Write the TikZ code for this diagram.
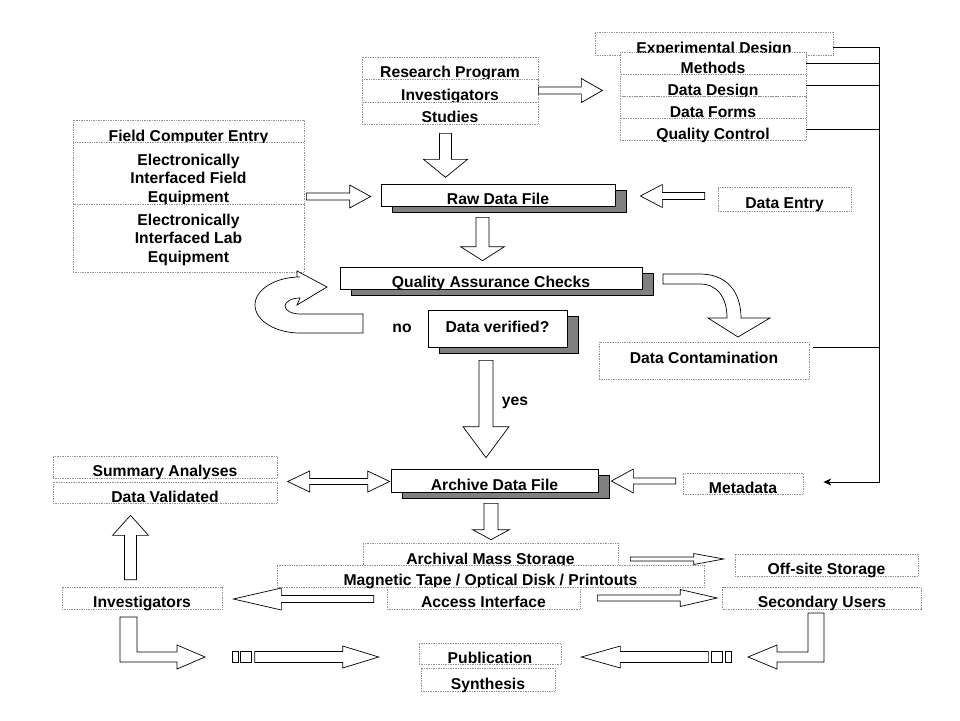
\documentclass[tikz,border=0pt]{standalone}
\usepackage{fontspec}
\setmainfont{Liberation Sans}
\usetikzlibrary{calc,shadows,arrows.meta}

\tikzset{
  txt/.style={font=\fontsize{15.7}{18.5}\selectfont\bfseries, inner sep=0pt},
  fbox/.style={txt, draw=gray!85, densely dotted, line width=0.7pt, fill=white, align=center},
  dbox/.style={fbox, text height=19pt, text depth=0pt},
  sbox/.style={txt, draw, line width=0.7pt, fill=white, text height=19pt, text depth=0pt,
    general shadow={fill=gray, draw=black, line width=0.6pt, shadow xshift=11pt, shadow yshift=-6pt}},
  wire/.style={line width=1pt},
  blk/.style={draw, fill=white, line width=0.7pt},
  fat/.style args={#1/#2/#3}{blk, to path={
    let \p1=(\tikztostart), \p2=(\tikztotarget),
        \n1={round(((\x2)-(\x1))/veclen((\x2)-(\x1),(\y2)-(\y1)))},
        \n2={round(((\y2)-(\y1))/veclen((\x2)-(\x1),(\y2)-(\y1)))} in
    ({(\x1)-(\n2)*#1}, {(\y1)+(\n1)*#1})
    -- ({(\x2)-(\n1)*#3-(\n2)*#1}, {(\y2)-(\n2)*#3+(\n1)*#1})
    -- ({(\x2)-(\n1)*#3-(\n2)*#2}, {(\y2)-(\n2)*#3+(\n1)*#2})
    -- (\p2)
    -- ({(\x2)-(\n1)*#3+(\n2)*#2}, {(\y2)-(\n2)*#3-(\n1)*#2})
    -- ({(\x2)-(\n1)*#3+(\n2)*#1}, {(\y2)-(\n2)*#3-(\n1)*#1})
    -- ({(\x1)+(\n2)*#1}, {(\y1)-(\n1)*#1})
    -- cycle}},
  fatt/.style args={#1/#2/#3}{blk, to path={
    let \p1=(\tikztostart), \p2=(\tikztotarget) in
    (\p1) -- ({(\x1)+#3}, {(\y1)+#2}) -- ({(\x1)+#3}, {(\y1)+#1})
    -- ({(\x2)-#3}, {(\y1)+#1}) -- ({(\x2)-#3}, {(\y1)+#2}) -- (\x2,\y1)
    -- ({(\x2)-#3}, {(\y1)-#2}) -- ({(\x2)-#3}, {(\y1)-#1})
    -- ({(\x1)+#3}, {(\y1)-#1}) -- ({(\x1)+#3}, {(\y1)-#2}) -- cycle}}
}

\begin{document}
\begin{tikzpicture}[x=1pt, y=1pt, >={Stealth[length=8pt,width=7pt]}]
\fill[white, use as bounding box] (0,0) rectangle (960,-720);

% design
\node[dbox, minimum width=238pt, minimum height=23pt] (ExpD) at (714,-43.5) {Experimental Design};
\node[dbox, minimum width=186pt, minimum height=21.6pt] (Meth) at (713,-63.5) {Methods};
\node[dbox, minimum width=186pt, minimum height=22.4pt] (DDes) at (713,-85.5) {Data Design};
\node[dbox, minimum width=186pt, minimum height=21.6pt] (DFrm) at (713,-107.5) {Data Forms};
\node[dbox, minimum width=186pt, minimum height=22.4pt] (QCtl) at (713,-129.5) {Quality Control};

\node[dbox, minimum width=176pt, minimum height=22pt] (RPrg) at (450,-68) {Research Program};
\node[dbox, minimum width=176pt, minimum height=23pt] (Invs) at (450,-90.5) {Investigators};
\node[dbox, minimum width=176pt, minimum height=22pt] (Stud) at (450,-113) {Studies};

\node[dbox, minimum width=231pt, minimum height=24pt] (FCE) at (188.5,-132) {Field Computer Entry};
\node[fbox, minimum width=231pt, minimum height=60pt] (EIF) at (188.5,-174) {\rule{0pt}{22.5pt}Electronically\\Interfaced Field\\Equipment};
\node[fbox, minimum width=231pt, minimum height=68pt] (EIL) at (188.5,-238) {\rule{0pt}{14.5pt}Electronically\\Interfaced Lab\\Equipment};

% checking
\node[sbox, minimum width=234pt, minimum height=22pt] (Raw) at (498,-195) {Raw Data File};
\node[dbox, minimum width=133pt, minimum height=24pt] (DEnt) at (784.5,-199) {Data Entry};
\node[sbox, minimum width=302pt, minimum height=22pt] (QA) at (491,-278) {Quality Assurance Checks};
\node[sbox, minimum width=139pt, minimum height=37pt, text height=11.5pt, text depth=3.3pt] (DVer) at (497.5,-328.5) {Data verified?};
\node[txt] (no) at (402,-328) {no};
\node[dbox, minimum width=210pt, minimum height=37pt, text height=11.5pt, text depth=5.3pt] (DCon) at (704,-360.5) {Data Contamination};
\node[txt] (yes) at (515,-403) {yes};

% archive
\node[sbox, minimum width=207pt, minimum height=23pt] (Arch) at (494.5,-480.5) {Archive Data File};
\node[dbox, minimum width=120pt, minimum height=21pt] (Meta) at (743,-483.5) {Metadata};
\node[dbox, minimum width=224pt, minimum height=22pt] (Summ) at (165,-467) {Summary Analyses};
\node[dbox, minimum width=224pt, minimum height=21pt] (DVal) at (165,-492.5) {Data Validated};
\node[dbox, minimum width=160pt, minimum height=22pt] (InvB) at (142,-598) {Investigators};
\node[dbox, minimum width=255pt, minimum height=23pt] (AMS) at (490.5,-554.5) {Archival Mass Storage};
\node[dbox, minimum width=427pt, minimum height=22pt] (Mag) at (490.5,-576) {Magnetic Tape / Optical Disk / Printouts};
\node[dbox, minimum width=193pt, minimum height=22pt] (Acc) at (483.5,-598) {Access Interface};
\node[dbox, minimum width=183pt, minimum height=22pt] (Off) at (826.5,-565) {Off-site Storage};
\node[dbox, minimum width=199pt, minimum height=22pt] (Sec) at (822,-598) {Secondary Users};
\node[dbox, minimum width=142pt, minimum height=21pt] (Pub) at (490,-653.5) {Publication};
\node[dbox, minimum width=134pt, minimum height=23pt] (Syn) at (488,-679.5) {Synthesis};

% block arrows
\draw[fat=3.5/12/21] (Invs.east) to ($(Invs.east)+(64,0)$);
\draw[fat=6/22/18] ($(Stud.south)+(-4.5,-9)$) to ($(Stud.south)+(-4.5,-53)$);
\draw[fat=3.5/11.5/21] ($(EIF.east)+(2,-22.5)$) to ($(Raw.west)+(-10,-1.5)$);
\draw[fat=3.5/11.5/22] ($(DEnt.west)+(-13,3)$) to ($(Raw.east)+(25,-1)$);
\draw[fat=6.5/22/14] ($(Raw.south)+(-15.5,-11)$) to ($(QA.north)+(-8.5,6)$);
\draw[fat=7/23/31] ($(DVer.south)+(-11.5,-13)$) to ($(Arch.north)+(-8.5,11)$);
\draw[fat=3/12/22] ($(Meta.west)+(-7,2.5)$) to ($(Arch.east)+(13,-0.5)$);
\draw[fatt=3/10.5/22] ($(Arch.west)+(-103,-1)$) to ($(Arch.west)+(-1,-1)$);
\draw[fat=6/18/20] ($(InvB.north)+(-11.5,7)$) to ($(DVal.south)+(-34.5,-12)$);
\draw[fat=7/18.5/10] ($(Arch.south)+(-3.5,-11)$) to ($(AMS.north)+(0.5,3)$);
\draw[fat=2/5.5/30] ($(AMS.east)+(12,-4.5)$) to ($(Off.west)+(-11,6)$);
\draw[fat=3/8.5/37] ($(Acc.east)+(17,0)$) to ($(Sec.west)+(-5,0)$);
\draw[fat=3.5/11/48] ($(Acc.west)+(-13,-1)$) to ($(InvB.east)+(11,-1)$);

% striped arrows to publication
\draw[blk] (232,-651.5) rectangle (238,-662.5);
\draw[blk] (240.5,-651.5) rectangle (251.5,-662.5);
\draw[fat=5.5/11/36] ($(Pub.west)+(-164,-3.5)$) to ($(Pub.west)+(-40,-3.5)$);
\draw[blk] (711,-651.5) rectangle (722,-662.5);
\draw[blk] (725,-651.5) rectangle (731,-662.5);
\draw[fat=5.5/11/39] ($(Pub.east)+(147,-3.5)$) to ($(Pub.east)+(20,-3.5)$);

% bent arrows
\draw[blk] (120,-617) -- (137,-617) -- (137,-652) -- (177,-652) -- (177,-645) -- (205,-657)
  -- (177,-669) -- (177,-662) -- (120,-662) -- cycle;
\draw[blk] (824,-613) -- (808,-613) -- (808,-652) -- (777,-652) -- (777,-645) -- (748,-657)
  -- (777,-669) -- (777,-662) -- (824,-662) -- cycle;
\draw[blk] (363,-333) -- (300,-333) arc[start angle=-90, end angle=-270, x radius=45pt, y radius=28pt]
  -- (297,-277) -- (297,-271) -- (327,-287) -- (297,-305) -- (300,-298)
  arc[start angle=90, end angle=270, x radius=15pt, y radius=8pt] -- (363,-314) -- cycle;
\draw[blk] (663,-274) -- (700,-274) .. controls (726,-274) and (741,-291) .. (741,-318)
  -- (770,-318) -- (738,-337) -- (708,-318) -- (727,-318)
  .. controls (727,-297) and (717,-284) .. (700,-284) -- (663,-284) -- cycle;

% feedback lines
\coordinate (bus) at (879,-47.3);
\coordinate (dc) at ($(DCon.north east)+(4,-6)$);
\coordinate (mt) at ($(Meta.east)+(20,1.5)$);
\draw[wire] ($(ExpD.east)+(0,-3.8)$) -- (bus);
\draw[wire] (Meth.east) -- (Meth.east -| bus);
\draw[wire] (DDes.east) -- (DDes.east -| bus);
\draw[wire] (QCtl.east) -- (QCtl.east -| bus);
\draw[wire] (dc) -- (dc -| bus);
\draw[wire, ->] (bus) |- (mt);
\end{tikzpicture}
\end{document}
